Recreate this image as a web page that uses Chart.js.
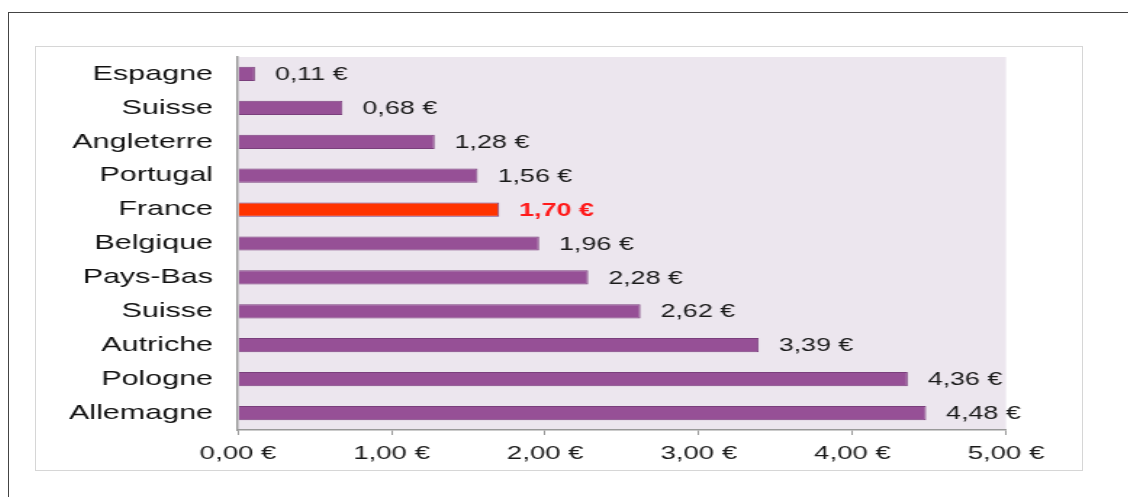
<!DOCTYPE html>
<html>
<head>
<meta charset="utf-8">
<script src="https://cdn.jsdelivr.net/npm/chart.js@4/dist/chart.umd.min.js"></script>
<style>
  html, body { margin: 0; padding: 0; background: #fff; width: 1128px; height: 497px; overflow: hidden; }
  #frame { position: absolute; left: 8px; top: 12px; width: 1200px; height: 600px; border: 1px solid #444; }
  #box { position: absolute; left: 35px; top: 46px; width: 1046px; height: 423px; border: 1px solid #d6d6d6; background: #fff; }
  /* l'image d'origine est étirée horizontalement */
  #stretch { width: 721px; height: 423px; transform-origin: 0 0; transform: scaleX(1.45076); }
  #chart { display: block; }
</style>
</head>
<body>
<div id="frame"></div>
<div id="box"><div id="stretch"><canvas id="chart" width="721" height="423"></canvas></div></div>
<script>
// données
const pays = ['Espagne', 'Suisse', 'Angleterre', 'Portugal', 'France', 'Belgique', 'Pays-Bas', 'Suisse', 'Autriche', 'Pologne', 'Allemagne'];
const prix = [0.11, 0.68, 1.28, 1.56, 1.70, 1.96, 2.28, 2.62, 3.39, 4.36, 4.48];
const highlight = 'France';
const xTicks = [0, 1, 2, 3, 4, 5];

const SX = 1046 / 721;   // étirement horizontal
const FONT = '"Liberation Sans", Arial, sans-serif';
const fmt = v => v.toFixed(2).replace('.', ',') + ' €';

const plotBg = {
    id: 'plotBg',
    beforeDraw(chart) {
        const { ctx, chartArea: a } = chart;
        ctx.save();
        ctx.fillStyle = '#ECE6EE';
        ctx.fillRect(a.left, a.top, a.right - a.left, a.bottom - a.top);
        ctx.restore();
    }
};

const valueLabels = {
    id: 'valueLabels',
    afterDatasetsDraw(chart) {
        const { ctx } = chart;
        const meta = chart.getDatasetMeta(0);
        ctx.save();
        ctx.textBaseline = 'middle';
        meta.data.forEach((bar, i) => {
            const hot = pays[i] === highlight;
            ctx.font = (hot ? 'bold ' : '') + '18.5px ' + FONT;
            ctx.fillStyle = hot ? '#FF1A1A' : '#1a1a1a';
            ctx.fillText(fmt(prix[i]), bar.x + 20 / SX, bar.y + 1);
        });
        ctx.restore();
    }
};

new Chart(document.getElementById('chart'), {
    type: 'bar',
    data: {
        labels: pays,
        datasets: [{
            data: prix,
            backgroundColor: pays.map(p => p === highlight ? '#FF3300' : '#965096'),
            borderColor: '#7A3F7C',
            borderWidth: 1,
            barPercentage: 0.42,
            categoryPercentage: 1
        }]
    },
    options: {
        indexAxis: 'y',
        responsive: false,
        animation: false,
        layout: { padding: { left: 0, top: 10, right: 76 / SX, bottom: 0 } },
        plugins: { legend: { display: false }, tooltip: { enabled: false } },
        scales: {
            x: {
                min: 0, max: 5,
                afterBuildTicks: s => { s.ticks = xTicks.map(v => ({ value: v })); },
                afterFit: s => { s.height = 40; },
                grid: { display: true, drawOnChartArea: false, drawTicks: true, tickLength: 5, color: '#999' },
                border: { color: '#999', width: 1.5 },
                ticks: {
                    color: '#1a1a1a',
                    font: { size: 19, family: FONT },
                    padding: 7,
                    callback: v => fmt(v)
                }
            },
            y: {
                afterFit: s => { s.width = 202 / SX; s.paddingTop = 0; s.paddingBottom = 0; },
                grid: { display: false, drawTicks: false },
                border: { color: '#999', width: 1.5 },
                ticks: {
                    color: '#111',
                    padding: 25 / SX,
                    font: { size: 21, family: FONT }
                }
            }
        }
    },
    plugins: [plotBg, valueLabels]
});
</script>
</body>
</html>
